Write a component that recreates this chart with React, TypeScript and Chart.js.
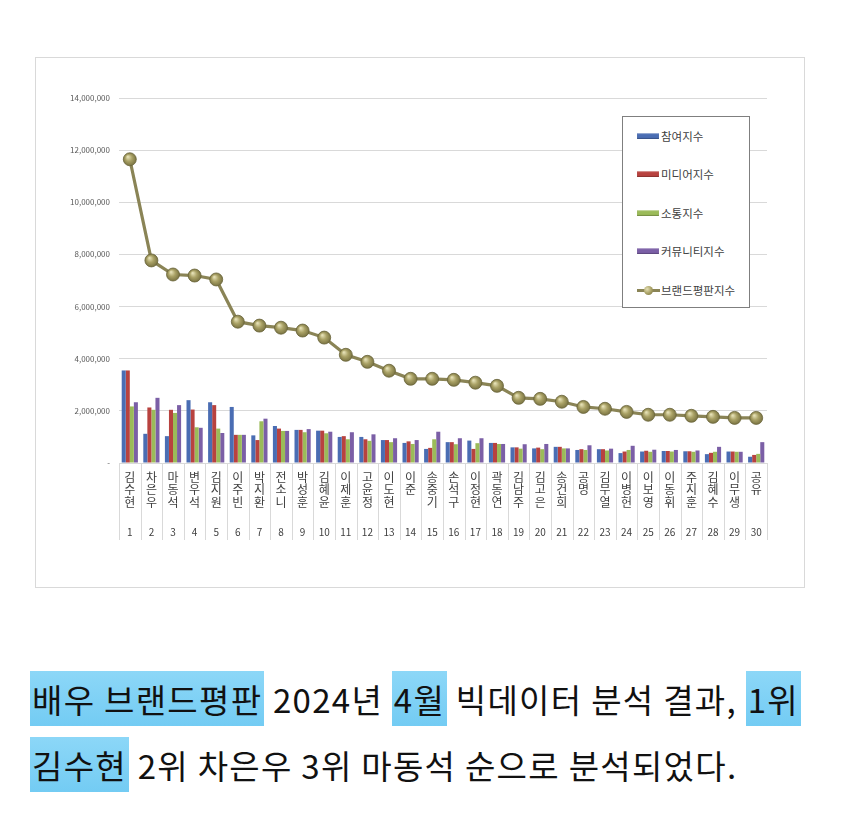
import React, { useEffect, useRef } from 'react';
import { Chart, registerables } from 'chart.js';

Chart.register(...registerables);

const FONT = '"Noto Sans CJK KR", "Noto Sans", sans-serif';

const names = ['김수현', '차은우', '마동석', '변우석', '김지원', '이주빈', '박지환', '전소니', '박성훈', '김혜윤',
  '이제훈', '고윤정', '이도현', '이준', '송중기', '손석구', '이정현', '곽동연', '김남주', '김고은',
  '송건희', '공명', '김무열', '이병헌', '이보영', '이동휘', '주지훈', '김혜수', '이무생', '공유'];

const ranks = ['1', '2', '3', '4', '5', '6', '7', '8', '9', '10', '11', '12', '13', '14', '15',
  '16', '17', '18', '19', '20', '21', '22', '23', '24', '25', '26', '27', '28', '29', '30'];

const seriesNames = ['참여지수', '미디어지수', '소통지수', '커뮤니티지수', '브랜드평판지수'];

const participation = [3550000, 1120000, 1030000, 2410000, 2330000, 2150000, 1060000, 1420000, 1270000, 1240000,
  1000000, 1000000, 880000, 770000, 540000, 800000, 860000, 770000, 600000, 560000,
  620000, 500000, 530000, 380000, 440000, 460000, 450000, 340000, 440000, 240000];

const media = [3550000, 2130000, 2040000, 2050000, 2220000, 1080000, 880000, 1320000, 1270000, 1240000,
  1030000, 910000, 880000, 830000, 580000, 800000, 540000, 770000, 600000, 590000,
  620000, 530000, 530000, 440000, 470000, 460000, 450000, 390000, 440000, 310000];

const communication = [2170000, 2040000, 1920000, 1370000, 1320000, 1080000, 1600000, 1230000, 1180000, 1140000,
  910000, 850000, 800000, 730000, 910000, 720000, 760000, 730000, 550000, 530000,
  560000, 500000, 480000, 500000, 430000, 440000, 430000, 430000, 430000, 350000];

const community = [2330000, 2500000, 2220000, 1350000, 1150000, 1080000, 1700000, 1230000, 1300000, 1200000,
  1180000, 1100000, 950000, 880000, 1200000, 950000, 950000, 730000, 720000, 730000,
  560000, 680000, 550000, 660000, 510000, 500000, 480000, 620000, 430000, 800000];

const brand = [11650000, 7770000, 7230000, 7190000, 7040000, 5420000, 5270000, 5190000, 5080000, 4810000,
  4150000, 3880000, 3540000, 3230000, 3230000, 3190000, 3080000, 2960000, 2500000, 2460000,
  2350000, 2150000, 2080000, 1960000, 1850000, 1850000, 1810000, 1770000, 1730000, 1730000];

const barColors = ['#4a6db3', '#b8423f', '#9bbb59', '#7b5fa6'];
const lineColor = '#8a8456';

const separators = {
  id: 'separators',
  afterDraw(chart: any) {
    const x = chart.scales.x;
    const x2 = chart.scales.x2;
    if (!x || !x2) return;
    const ctx = chart.ctx;
    const n = names.length;
    const half = (x.getPixelForTick(1) - x.getPixelForTick(0)) / 2;
    ctx.save();
    ctx.strokeStyle = '#d9d9d9';
    ctx.lineWidth = 1;
    ctx.beginPath();
    for (let i = 0; i <= n; i++) {
      const px = i < n ? x.getPixelForTick(i) - half : x.getPixelForTick(n - 1) + half;
      const xx = Math.round(px) + 0.5;
      ctx.moveTo(xx, x.top);
      ctx.lineTo(xx, x2.bottom - 2);
    }
    ctx.stroke();
    ctx.restore();
  },
};

function sphere(c: any) {
  const chart = c.chart;
  if (c.type !== 'data') return '#a39b60';
  const px = chart.scales.x.getPixelForValue(c.dataIndex);
  const py = chart.scales.y.getPixelForValue(c.raw);
  if (!isFinite(px) || !isFinite(py)) return '#a39b60';
  const g = chart.ctx.createRadialGradient(px - 2, py - 2.5, 0.5, px, py, 7);
  g.addColorStop(0, '#e4dfb4');
  g.addColorStop(0.45, '#aaa266');
  g.addColorStop(1, '#746e3e');
  return g;
}

export default function App() {
  const ref = useRef<HTMLCanvasElement>(null);

  useEffect(() => {
    const canvas = ref.current;
    if (!canvas) return;
    const barSets = [participation, media, communication, community].map((d, i) => ({
      type: 'bar' as const,
      label: seriesNames[i],
      data: d,
      backgroundColor: barColors[i],
      borderWidth: 0,
      order: 1,
    }));
    const chart = new Chart(canvas, {
      type: 'bar',
      data: {
        labels: names.map((n) => n.split('')),
        datasets: [
          {
            type: 'line' as const,
            label: seriesNames[4],
            data: brand,
            order: 0,
            borderColor: lineColor,
            borderWidth: 3.2,
            pointRadius: 6.5,
            pointBorderWidth: 0.8,
            pointBorderColor: '#6a653a',
            pointBackgroundColor: sphere as any,
            tension: 0,
          } as any,
          ...barSets,
        ],
      },
      options: {
        animation: false,
        responsive: false,
        maintainAspectRatio: false,
        layout: { padding: { left: 0, right: 37, top: 40, bottom: 45 } },
        plugins: { legend: { display: false }, tooltip: { enabled: false } },
        datasets: { bar: { categoryPercentage: 0.75, barPercentage: 1 } },
        scales: {
          x: {
            type: 'category',
            position: 'bottom',
            weight: 0,
            offset: true,
            grid: { display: false, drawTicks: false },
            border: { display: false },
            ticks: {
              autoSkip: false,
              maxRotation: 0,
              minRotation: 0,
              padding: 8,
              color: '#404040',
              font: { family: FONT, size: 12, lineHeight: '12.6px' },
            },
            afterFit: (s: any) => { s.height = 55; },
          },
          x2: {
            type: 'category',
            position: 'bottom',
            weight: 1,
            labels: ranks,
            offset: true,
            grid: { display: false, drawTicks: false },
            border: { display: false },
            ticks: {
              autoSkip: false,
              maxRotation: 0,
              minRotation: 0,
              padding: 8,
              color: '#404040',
              font: { family: FONT, size: 10 },
            },
            afterFit: (s: any) => { s.height = 24; },
          },
          y: {
            min: 0,
            max: 14000000,
            grid: { color: '#d9d9d9', drawTicks: false },
            border: { display: false },
            ticks: {
              stepSize: 2000000,
              padding: 9,
              color: '#595959',
              font: { family: FONT, size: 8 },
              callback: (v: any) => (Number(v) === 0 ? '-' : Number(v).toLocaleString('en-US')),
            },
            afterFit: (s: any) => { s.width = 83; },
          },
        } as any,
      },
      plugins: [separators],
    } as any);
    return () => chart.destroy();
  }, []);

  const legendTops = [19, 57, 96, 134, 173];
  const hl: React.CSSProperties = {
    background: 'linear-gradient(180deg, rgba(120,208,246,0.85), rgba(100,198,242,0.9))',
    padding: '4px 2px 3px',
  };
  const textStyle: React.CSSProperties = {
    position: 'absolute', left: 30, fontSize: 33, lineHeight: '50px', color: '#111',
    whiteSpace: 'nowrap', letterSpacing: '1.3px',
  };

  return (
    <div style={{ position: 'absolute', left: 0, top: 0, width: 850, height: 833, background: '#fff', fontFamily: FONT }}>
      <div style={{ position: 'absolute', left: 35, top: 57, width: 770, height: 531, border: '1px solid #d9d9d9', boxSizing: 'border-box', background: '#fff' }} />
      <canvas ref={ref} width={768} height={529} style={{ position: 'absolute', left: 36, top: 58, width: 768, height: 529 }} />
      <div style={{ position: 'absolute', left: 622, top: 116, width: 128, height: 192, border: '1px solid #7f7f7f', boxSizing: 'border-box', background: '#fff' }}>
        {seriesNames.map((s, i) => (
          <div key={s} style={{ position: 'absolute', left: 14, top: legendTops[i] - 9, height: 18, display: 'flex', alignItems: 'center', whiteSpace: 'nowrap' }}>
            {i < 4 ? (
              <div style={{ width: 22, height: 6, marginRight: 2, background: barColors[i], boxShadow: 'inset 0 1px 1px rgba(255,255,255,0.45), inset 0 -1px 1px rgba(0,0,0,0.25)' }} />
            ) : (
              <div style={{ width: 23, height: 10, marginRight: 1, position: 'relative' }}>
                <div style={{ position: 'absolute', left: 0, top: 3.5, width: 23, height: 3, background: lineColor }} />
                <div style={{ position: 'absolute', left: 7, top: 0.5, width: 9, height: 9, borderRadius: '50%', background: 'radial-gradient(circle at 35% 35%, #e4dfb4, #aaa266 50%, #746e3e)' }} />
              </div>
            )}
            <span style={{ fontSize: 11.5, color: '#404040' }}>{s}</span>
          </div>
        ))}
      </div>
      <div style={{ ...textStyle, top: 674 }}>
        <span style={hl}>배우 브랜드평판</span> 2024년 <span style={hl}>4월</span> 빅데이터 분석 결과, <span style={hl}>1위</span>
      </div>
      <div style={{ ...textStyle, top: 740 }}>
        <span style={hl}>김수현</span> 2위 차은우 3위 마동석 순으로 분석되었다.
      </div>
    </div>
  );
}
